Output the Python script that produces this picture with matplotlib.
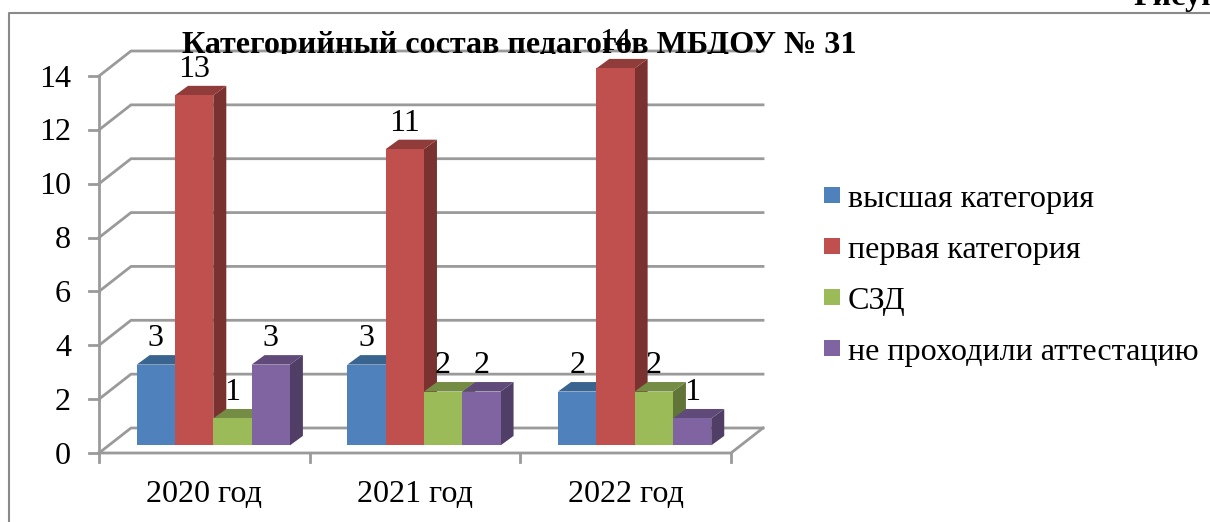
# Категорийный состав педагогов - 3D style column chart
import numpy as np
import matplotlib
matplotlib.use('Agg')
from matplotlib import pyplot as plt
from matplotlib.patches import Polygon, Rectangle

plt.rcParams['font.family'] = ['Liberation Serif', 'DejaVu Serif']

# Data
years = ['2020 год', '2021 год', '2022 год']
series_names = ['высшая категория', 'первая категория', 'СЗД', 'не проходили аттестацию']
vysshaya = [3, 3, 2]
pervaya = [13, 11, 14]
szd = [1, 2, 2]
ne_proshli = [3, 2, 1]
y_ticks = [0, 2, 4, 6, 8, 10, 12, 14]
title = 'Категорийный состав педагогов МБДОУ № 31'

colors = ['#4F81BD', '#C0504D', '#9BBB59', '#8064A2']
tops = ['#3A6490', '#8F3C3A', '#748C43', '#5F4A79']
sides = ['#2F5378', '#7A3230', '#617539', '#503E66']
grey = '#9A9A9A'
fs = 23.1

W, H = 1210, 522
fig = plt.figure(figsize=(W / 100, H / 100), dpi=100)
fig.patch.set_facecolor('white')
# axes box = front floor edge and left axis of the chart, in pixels
left, right, bottom, top = 99, 731, 453, 76
ax = fig.add_axes([left / W, 1 - bottom / H, (right - left) / W, (bottom - top) / H])
ax.set_xlim(0, 3)
ax.set_ylim(0, 14)
ax.axis('off')

px = 3 / (right - left)          # one pixel in x data units
py = 14 / (bottom - top)         # one pixel in y data units
wall_dx, wall_dy = 32 * px, 25 * py
bar_dx, bar_dy = 13 * px, 9.5 * py
base_y = 7.6 * py
bar_w = 38.3 * px
start = 37.7 * px

# floor and walls
for t in y_ticks:
    ax.plot([0, wall_dx, 3 + wall_dx], [t, t + wall_dy, t + wall_dy], color=grey, lw=2, clip_on=False, zorder=1)
    ax.plot([-10 * px, 0], [t, t], color=grey, lw=2, clip_on=False, zorder=1)
ax.plot([0, 0], [0, 14], color=grey, lw=2, clip_on=False, zorder=1)
ax.plot([0, 3, 3 + wall_dx], [0, 0, wall_dy], color=grey, lw=2, clip_on=False, zorder=1)
for i in range(4):
    ax.plot([i, i], [0, -9 * py], color=grey, lw=2, clip_on=False, zorder=1)

# bars, left to right so every bar covers the side of its neighbour
all_series = [vysshaya, pervaya, szd, ne_proshli]
for g in range(len(years)):
    for s in range(4):
        val = all_series[s][g]
        x0 = g + start + s * bar_w
        x1 = x0 + bar_w
        y1 = val + base_y
        z = 3 + g + s * 0.1
        ax.add_patch(Polygon([(x1, base_y), (x1 + bar_dx, base_y + bar_dy), (x1 + bar_dx, y1 + bar_dy), (x1, y1)],
                             fc=sides[s], ec='none', clip_on=False, zorder=z))
        ax.add_patch(Polygon([(x0, y1), (x0 + bar_dx, y1 + bar_dy), (x1 + bar_dx, y1 + bar_dy), (x1, y1)],
                             fc=tops[s], ec='none', clip_on=False, zorder=z))
        ax.bar(x0, val, bar_w, bottom=base_y, align='edge', color=colors[s], clip_on=False, zorder=z + 0.01)
        ax.text((x0 + x1) / 2, y1 + bar_dy + 9 * py, str(val), ha='center', va='baseline',
                fontsize=fs, clip_on=False, zorder=10)

# axis labels
for t in y_ticks:
    ax.text(-28 * px, t - 3 * py, str(t), ha='right', va='center', fontsize=fs, clip_on=False)
for g, name in enumerate(years):
    ax.text(g + 0.5, -41 * py, name, ha='center', va='center', fontsize=fs, clip_on=False)

# legend
box_y = [195, 246, 297, 348]
text_y = [207, 258, 309, 360]
for by, ty, c, name in zip(box_y, text_y, colors, series_names):
    fig.patches.append(Rectangle((824 / W, 1 - (by + 8) / H), 16 / W, 16 / H, transform=fig.transFigure, fc=c, ec='none'))
    fig.text(848 / W, 1 - ty / H, name, ha='left', va='baseline', fontsize=fs)

# chart frame
fig.add_artist(plt.Line2D([9 / W, 9 / W, 1], [0, 1 - 13 / H, 1 - 13 / H], color='#8A8A8A', lw=1.5))

# title is cut off at the bottom in the original
clip = Rectangle((0, 1 - 54 / H), 1, 54 / H, transform=fig.transFigure)
t1 = fig.text(519 / W, 1 - 53.5 / H, title, ha='center', va='baseline', fontsize=fs, fontweight='bold')
t1.set_clip_path(clip)

# caption cut by the top of the image
fig.text(1133 / W, 1 - 5 / H, 'Рисун', ha='left', va='baseline', fontsize=fs, fontweight='bold')

fig.savefig('out.png', dpi=100)
